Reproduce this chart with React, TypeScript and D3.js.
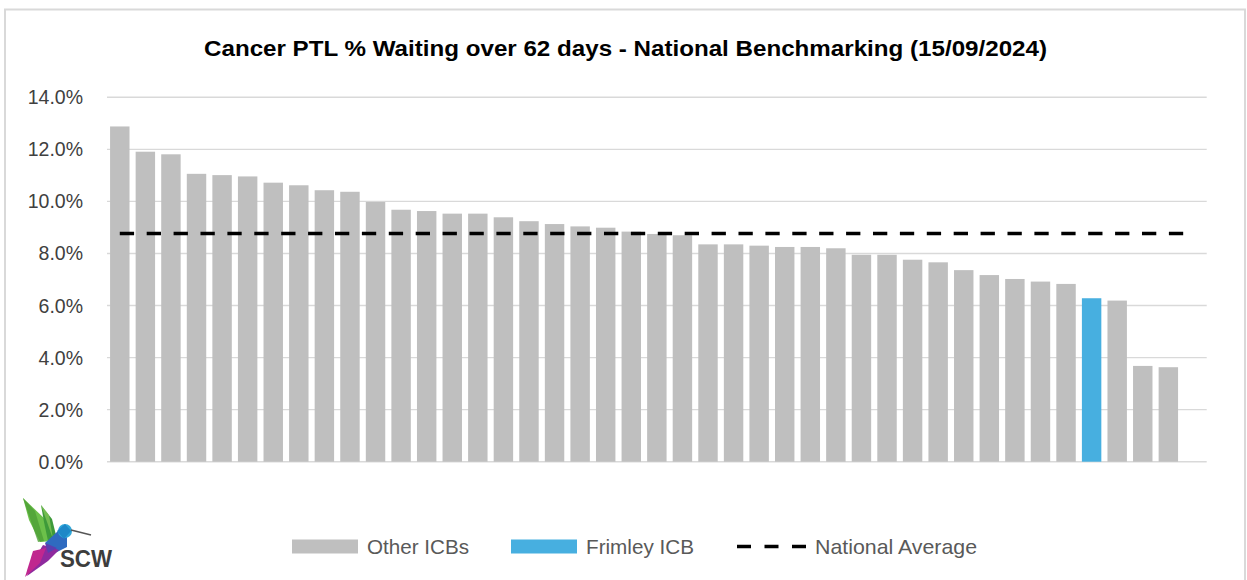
import React from "react";
import * as d3 from "d3";

// ---- data ----
const title = "Cancer PTL % Waiting over 62 days - National Benchmarking (15/09/2024)";
// % of Cancer PTL waiting over 62 days, one value per ICB, sorted descending
const icbValues: number[] = [
  12.88, 11.91, 11.81, 11.06, 11.01, 10.96, 10.72, 10.62, 10.43, 10.37,
  9.98, 9.68, 9.63, 9.53, 9.53, 9.39, 9.24, 9.13, 9.04, 8.99,
  8.84, 8.75, 8.7, 8.35, 8.35, 8.3, 8.25, 8.25, 8.2, 7.95,
  7.95, 7.76, 7.66, 7.36, 7.17, 7.02, 6.92, 6.83, 6.28, 6.19,
  3.68, 3.63,
];
const frimleyIndex = 38; // the highlighted ICB
const categoryCount = 43; // Excel axis keeps one empty slot at the end
const categories: number[] = d3.range(categoryCount);
const nationalAverage = 8.77;
const yTicks: number[] = [0, 2, 4, 6, 8, 10, 12, 14];
const legendLabels: string[] = ["Other ICBs", "Frimley ICB", "National Average"];

const GRAY = "#BFBFBF";
const BLUE = "#47AFE0";
const GRID = "#D9D9D9";

export default function App() {
  const W = 1247;
  const H = 580;
  const plot = { left: 107, right: 1206.7, top: 97.3, bottom: 461.7 };

  const x = d3
    .scaleBand<number>()
    .domain(categories)
    .range([plot.left, plot.right])
    .paddingInner(0.24)
    .paddingOuter(0.12);
  const y = d3.scaleLinear().domain([0, 14]).range([plot.bottom, plot.top]);
  const fmt = d3.format(".1f");

  const lineGen = d3
    .line<number>()
    .x((i) => (x(i) as number) + x.bandwidth() / 2)
    .y(() => y(nationalAverage));
  const avgPath = lineGen([categories[0], categories[categories.length - 1]]) as string;

  const font = "'Liberation Sans', Arial, sans-serif";
  const legendFont = "'Liberation Sans', Arial, sans-serif";

  return (
    <svg
      width={W}
      height={H}
      viewBox={`0 0 ${W} ${H}`}
      style={{ position: "absolute", left: 0, top: 0, background: "#fff" }}
    >
      <rect x={0} y={0} width={W} height={H} fill="#fff" />
      {/* chart border */}
      <rect x={5} y={9.5} width={1240} height={600} fill="none" stroke={GRID} strokeWidth={2} />

      {/* title */}
      <text
        x={625.5}
        y={56}
        textAnchor="middle"
        fontFamily={font}
        fontWeight="bold"
        fontSize={22}
        fill="#000"
        textLength={843}
        lengthAdjust="spacingAndGlyphs"
      >
        {title}
      </text>

      {/* gridlines + y labels */}
      {yTicks.map((t) => (
        <g key={t}>
          <line
            x1={plot.left}
            x2={plot.right}
            y1={y(t)}
            y2={y(t)}
            stroke={GRID}
            strokeWidth={1.4}
          />
          <text
            x={83}
            y={y(t)}
            dy="0.36em"
            textAnchor="end"
            fontFamily={font}
            fontSize={19.5}
            fill="#404040"
          >
            {fmt(t)}%
          </text>
        </g>
      ))}

      {/* bars */}
      {icbValues.map((v, i) => (
        <rect
          key={i}
          x={x(categories[i]) as number}
          y={y(v)}
          width={x.bandwidth()}
          height={y(0) - y(v)}
          fill={i === frimleyIndex ? BLUE : GRAY}
        />
      ))}

      {/* national average */}
      <path
        d={avgPath}
        fill="none"
        stroke="#000"
        strokeWidth={3.6}
        strokeDasharray="14.3 12.6"
      />

      {/* legend */}
      <rect x={292} y={539.5} width={66} height={14} fill={GRAY} />
      <text x={367} y={554} fontFamily={legendFont} fontSize={21} fill="#595959" textLength={102} lengthAdjust="spacingAndGlyphs">
        {legendLabels[0]}
      </text>
      <rect x={511} y={539.5} width={66} height={14} fill={BLUE} />
      <text x={586} y={554} fontFamily={legendFont} fontSize={21} fill="#595959" textLength={108} lengthAdjust="spacingAndGlyphs">
        {legendLabels[1]}
      </text>
      <line x1={737} x2={806} y1={546.5} y2={546.5} stroke="#000" strokeWidth={3.6} strokeDasharray="14 13.5" />
      <text x={815} y={554} fontFamily={legendFont} fontSize={21} fill="#595959" textLength={162} lengthAdjust="spacingAndGlyphs">
        {legendLabels[2]}
      </text>

      {/* SCW logo (hummingbird) */}
      <g>
        <polygon points="23,498 46,520 53,541 40,542 29,520" fill="#6CC04A" />
        <polygon points="23,498 35,511 44,541 38,542" fill="#4E9F36" opacity={0.8} />
        <polygon points="41,505 52,519 57,539 48,541 44,522" fill="#3E9A3A" />
        <polygon points="41,505 49,515 53,539" fill="#8ACB5A" opacity={0.7} />
        <polygon points="45,543 58,531 67,534 67,547 55,553" fill="#2F6BC0" />
        <circle cx={65} cy={531} r={7} fill="#2FA6D8" />
        <polygon points="57,531 65,524 71,531 64,539" fill="#1E88C8" />
        <line x1={71} y1={530} x2={91} y2={535} stroke="#555" strokeWidth={1.6} />
        <polygon points="43,545 59,550 48,561 27,576 35,558" fill="#8E2A9E" />
        <polygon points="33,551 46,548 40,563 25,577" fill="#C0278F" />
        <polygon points="45,543 57,548 48,553" fill="#5A3FB0" />
        <text x={60} y={567} fontFamily={font} fontWeight="bold" fontSize={24} fill="#3D3D3D" textLength={52} lengthAdjust="spacingAndGlyphs">
          SCW
        </text>
      </g>
    </svg>
  );
}
